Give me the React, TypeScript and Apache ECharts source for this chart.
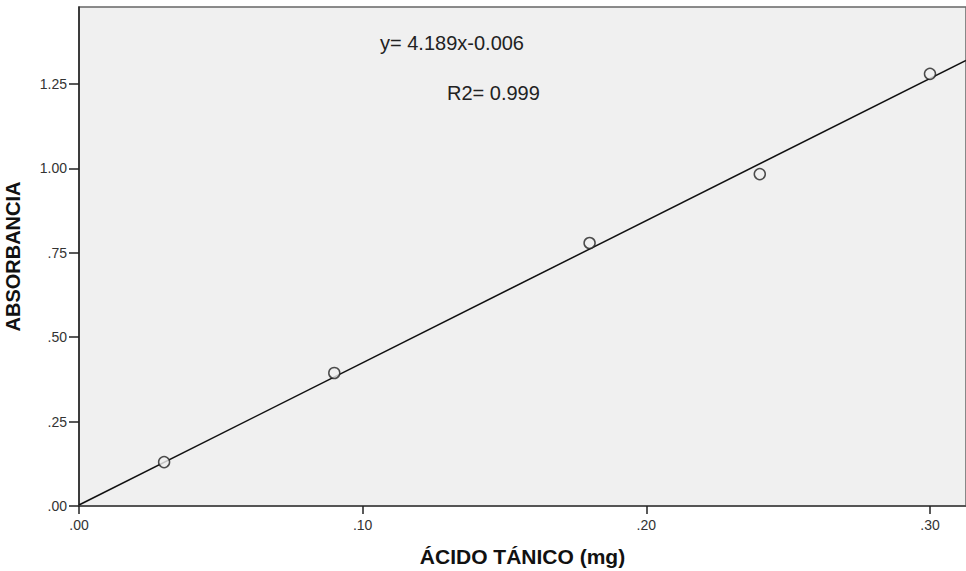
import React, { useEffect, useRef } from "react";
import * as echarts from "echarts";

const xValues = [0.03, 0.09, 0.18, 0.24, 0.30];
const yValues = [0.13, 0.394, 0.779, 0.983, 1.28];
const fitLine = [[0, 0.003], [0.3127, 1.32]];
const equationText = "y= 4.189x-0.006";
const r2Text = "R2= 0.999";
const xTitle = "ÁCIDO TÁNICO (mg)";
const yTitle = "ABSORBANCIA";

const fmt = (v: number) => v.toFixed(2).replace(/^0\./, ".");

export default function App() {
  const ref = useRef<HTMLDivElement>(null);
  useEffect(() => {
    if (!ref.current) return;
    const chart = echarts.init(ref.current, undefined, { renderer: "svg" });
    const font = "'Liberation Sans', Arial, sans-serif";
    chart.setOption({
      animation: false,
      backgroundColor: "#ffffff",
      textStyle: { fontFamily: font },
      grid: {
        left: 79,
        top: 7,
        right: 0,
        bottom: 65,
        outerBoundsMode: "none",
        containLabel: false,
        show: true,
        backgroundColor: "#f0f0f0",
        borderColor: "#666",
        borderWidth: 1.5,
      },
      xAxis: {
        type: "value",
        min: 0,
        max: 0.3127,
        interval: 0.1,
        name: xTitle,
        nameLocation: "middle",
        nameGap: 40,
        nameTextStyle: { fontWeight: "bold", fontSize: 21, color: "#111", fontFamily: font },
        axisLine: { show: true, onZero: false, lineStyle: { color: "#555", width: 2 } },
        axisTick: { show: true, length: 8, lineStyle: { color: "#222", width: 1.5 } },
        axisLabel: {
          formatter: fmt,
          fontSize: 14,
          color: "#333",
          margin: 12,
          showMaxLabel: false,
          fontFamily: font,
        },
        splitLine: { show: false },
      },
      yAxis: {
        type: "value",
        min: 0,
        max: 1.478,
        interval: 0.25,
        name: yTitle,
        nameLocation: "middle",
        nameGap: 56,
        nameTextStyle: { fontWeight: "bold", fontSize: 20, color: "#111", fontFamily: font },
        axisLine: { show: true, onZero: false, lineStyle: { color: "#222", width: 1.5 } },
        axisTick: { show: true, length: 10, lineStyle: { color: "#222", width: 1.5 } },
        axisLabel: {
          formatter: fmt,
          fontSize: 14,
          color: "#333",
          margin: 12,
          showMaxLabel: false,
          fontFamily: font,
        },
        splitLine: { show: false },
      },
      series: [
        {
          type: "line",
          data: fitLine,
          symbol: "none",
          lineStyle: { color: "#111", width: 1.5 },
          z: 2,
        },
        {
          type: "scatter",
          data: xValues.map((x, i) => [x, yValues[i]]),
          symbol: "circle",
          symbolSize: 11,
          itemStyle: { color: "#f0f0f0", borderColor: "#222", borderWidth: 1.5 },
          z: 3,
        },
      ],
      graphic: [
        {
          type: "text",
          left: 380,
          top: 33,
          style: { text: equationText, fontSize: 20, fill: "#222", fontFamily: font },
        },
        {
          type: "text",
          left: 447,
          top: 83,
          style: { text: r2Text, fontSize: 20, fill: "#222", fontFamily: font },
        },
      ],
    });
    return () => chart.dispose();
  }, []);
  return (
    <div
      ref={ref}
      style={{ position: "fixed", left: 0, top: 0, width: 966, height: 571 }}
    />
  );
}
